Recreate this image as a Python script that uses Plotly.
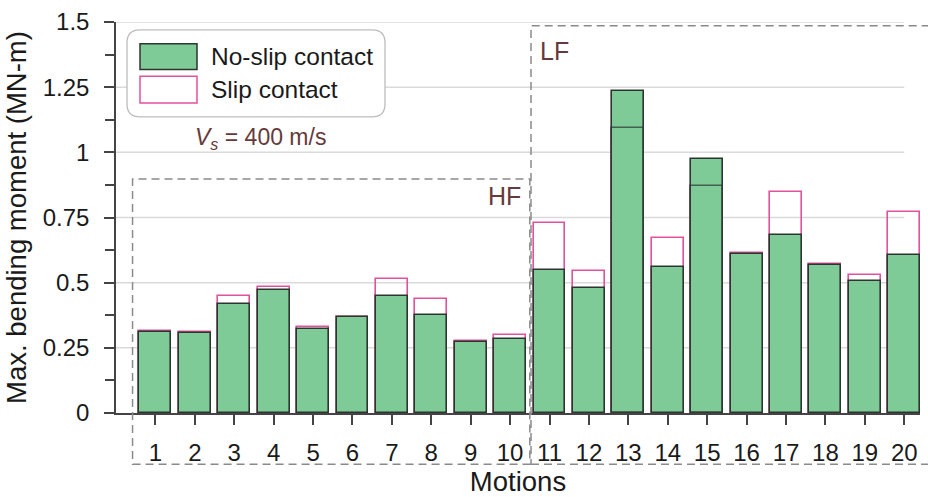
import plotly.graph_objects as go

# Maximum bending moment per motion record (MN-m)
motions = list(range(1, 21))
no_slip = [0.310, 0.307, 0.420, 0.470, 0.323, 0.367, 0.447, 0.376, 0.271, 0.285,
           0.548, 0.481, 1.237, 0.561, 0.975, 0.611, 0.683, 0.568, 0.508, 0.606]
slip = [0.314, 0.310, 0.449, 0.482, 0.331, 0.370, 0.515, 0.436, 0.278, 0.300,
        0.730, 0.544, 1.095, 0.673, 0.871, 0.613, 0.848, 0.571, 0.529, 0.770]
y_ticks = [0, 0.25, 0.5, 0.75, 1, 1.25, 1.5]
y_tick_text = ["0", "0.25", "0.5", "0.75", "1", "1.25", "1.5"]

GREEN = "#7ECB97"
PINK = "#E2529C"
EDGE = "#2E3530"
NOTE = "#663A3A"
FONT = "Liberation Sans, Arial, sans-serif"

W, H = 928, 497
L, R, T, B = 116, 8, 18, 83
PW, PH = W - L - R, H - T - B
XR = [0, 20.4]
YR = [0, 1.5]


def px_x(px):
    return (px - L) / PW


def px_y(py):
    return (H - B - py) / PH


def data_x(x):
    return (x - XR[0]) / (XR[1] - XR[0])


def data_y(y):
    return (y - YR[0]) / (YR[1] - YR[0])


def rounded_rect(x0, y0, x1, y1, r):
    # pixel box -> paper-space SVG path with rounded corners
    def P(x, y):
        return f"{px_x(x):.5f},{px_y(y):.5f}"
    return (f"M {P(x0 + r, y0)} L {P(x1 - r, y0)} Q {P(x1, y0)} {P(x1, y0 + r)} "
            f"L {P(x1, y1 - r)} Q {P(x1, y1)} {P(x1 - r, y1)} "
            f"L {P(x0 + r, y1)} Q {P(x0, y1)} {P(x0, y1 - r)} "
            f"L {P(x0, y0 + r)} Q {P(x0, y0)} {P(x0 + r, y0)} Z")


fig = go.Figure()

# slip-contact outlines (behind)
fig.add_trace(go.Bar(
    x=motions, y=slip, width=0.81, name="Slip contact",
    marker=dict(color="rgba(0,0,0,0)", line=dict(color=PINK, width=1.6)),
))
# no-slip bars
fig.add_trace(go.Bar(
    x=motions, y=no_slip, width=0.81, name="No-slip contact",
    marker=dict(color=GREEN, line=dict(color=EDGE, width=1.6)),
))
# slip edge seen through the green where slip < no-slip
fig.add_trace(go.Bar(
    x=motions, y=slip, width=0.81, showlegend=False, hoverinfo="skip",
    marker=dict(color="rgba(0,0,0,0)",
                line=dict(color=["rgba(50,60,55,0.75)" if s < n else "rgba(0,0,0,0)"
                                 for s, n in zip(slip, no_slip)], width=1.6)),
))

shapes = []
# horizontal grid
for v in y_ticks[1:]:
    shapes.append(dict(type="line", xref="x", yref="y", x0=0, x1=20, y0=v, y1=v,
                       line=dict(color="#DADADA", width=1.5), layer="below"))

# HF / LF dashed regions
dash = dict(color="#8A8A8A", width=1.5, dash="8px,5px")
shapes.append(dict(type="rect", xref="paper", yref="paper",
                   x0=data_x(0.42), x1=data_x(10.5), y0=px_y(466), y1=data_y(0.898),
                   line=dash, fillcolor="rgba(0,0,0,0)"))
shapes.append(dict(type="rect", xref="paper", yref="paper",
                   x0=data_x(10.53), x1=px_x(940), y0=px_y(466), y1=data_y(1.486),
                   line=dash, fillcolor="rgba(0,0,0,0)"))

# legend frame and swatches
shapes.append(dict(type="path", xref="paper", yref="paper",
                   path=rounded_rect(127, 26, 385, 114, 13),
                   line=dict(color="#BDBDBD", width=1.3), fillcolor="white"))
shapes.append(dict(type="rect", xref="paper", yref="paper",
                   x0=px_x(140), x1=px_x(197), y0=px_y(66), y1=px_y(40),
                   line=dict(color=EDGE, width=1.5), fillcolor=GREEN))
shapes.append(dict(type="rect", xref="paper", yref="paper",
                   x0=px_x(140), x1=px_x(197), y0=px_y(100), y1=px_y(73),
                   line=dict(color=PINK, width=1.5), fillcolor="white"))

annotations = [
    dict(text="No-slip contact", xref="paper", yref="paper", x=px_x(209), y=px_y(53),
         xanchor="left", yanchor="middle", showarrow=False,
         font=dict(family=FONT, size=24.5, color="#1A1A1A")),
    dict(text="Slip contact", xref="paper", yref="paper", x=px_x(209), y=px_y(86),
         xanchor="left", yanchor="middle", showarrow=False,
         font=dict(family=FONT, size=24.5, color="#1A1A1A")),
    dict(text="<i>V</i><sub><i>s</i></sub> = 400 m/s", xref="paper", yref="paper",
         x=px_x(260), y=px_y(136), xanchor="center", yanchor="middle", showarrow=False,
         font=dict(family=FONT, size=23, color=NOTE)),
    dict(text="HF", xref="paper", yref="paper", x=px_x(523), y=px_y(194),
         xanchor="right", yanchor="middle", showarrow=False,
         font=dict(family=FONT, size=25, color=NOTE)),
    dict(text="LF", xref="paper", yref="paper", x=px_x(538), y=px_y(47),
         xanchor="left", yanchor="middle", showarrow=False,
         font=dict(family=FONT, size=25, color=NOTE)),
]

fig.update_layout(
    width=W, height=H,
    margin=dict(l=L, r=R, t=T, b=B),
    paper_bgcolor="white", plot_bgcolor="white",
    barmode="overlay", bargap=0, showlegend=False,
    font=dict(family=FONT, size=24, color="#1A1A1A"),
    shapes=shapes, annotations=annotations,
)
fig.update_xaxes(
    range=XR, tickmode="array", tickvals=motions, ticktext=[str(m) for m in motions],
    ticks="outside", ticklen=10, tickwidth=1.5, tickcolor="#444",
    showline=True, linecolor="#444", linewidth=1.5, showgrid=False, zeroline=False,
    tickfont=dict(size=24), ticklabelstandoff=7,
    title=dict(text="Motions", font=dict(size=27.5), standoff=4),
)
fig.update_yaxes(
    range=YR, tickmode="array", tickvals=y_ticks, ticktext=y_tick_text,
    ticks="outside", ticklen=10, tickwidth=1.5, tickcolor="#444",
    minor=dict(tickmode="array", tickvals=[0.125, 0.375, 0.625, 0.875, 1.125, 1.375],
               ticks="outside", ticklen=9, tickwidth=1.5, tickcolor="#444"),
    showline=True, linecolor="#444", linewidth=1.5, showgrid=False, zeroline=False,
    tickfont=dict(size=24), ticklabelstandoff=10,
    title=dict(text="Max. bending moment (MN-m)", font=dict(size=27.5), standoff=8),
)

fig.write_html("out.html")
